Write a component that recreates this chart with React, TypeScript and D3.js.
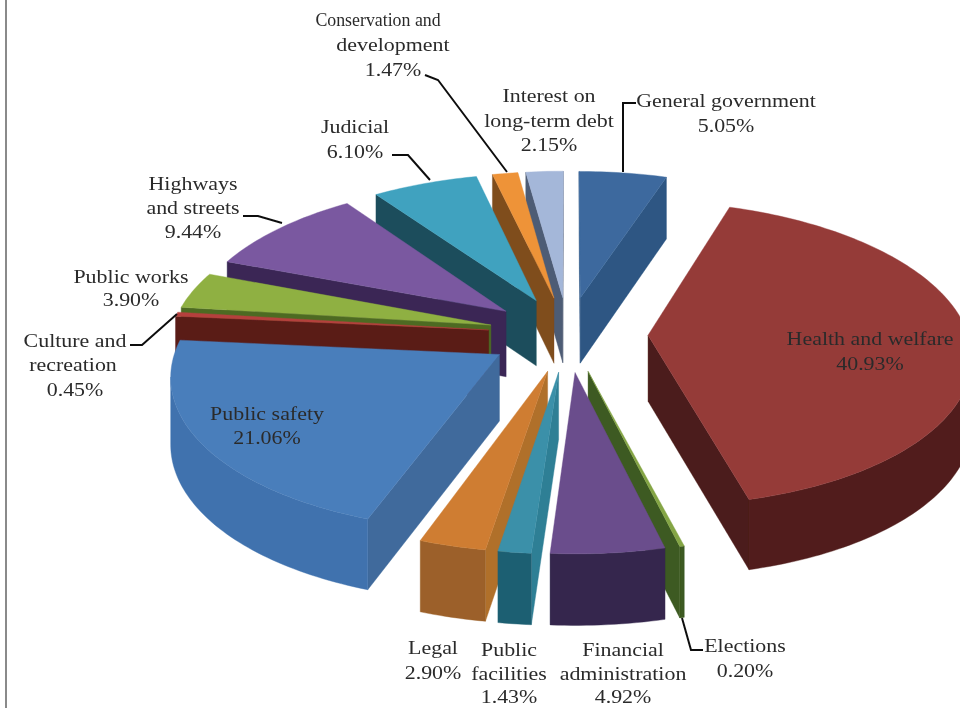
import React from "react";
import * as d3 from "d3";

// ---- data ----
const categories = ["General government","Health and welfare","Elections","Financial administration","Public facilities","Legal","Public safety","Culture and recreation","Public works","Highways and streets","Judicial","Conservation and development","Interest on long-term debt"];
const shares = [5.05,40.93,0.2,4.92,1.43,2.9,21.06,0.45,3.9,9.44,6.1,1.47,2.15];
const topColors = ["#3c699e","#953b39","#84a544","#6a4d8c","#3a90a9","#cf7d32","#4a7ebb","#b5413d","#8fb042","#7a58a0","#3fa2bf","#ee9338","#a4b7d9"];
const radialColors = ["#2d5683","#4b1b1a","#3c5a20","#35284e","#2f7f95","#b06f2c","#3f6a9c","#5a1c19","#4d6a24","#3a2855","#1d4e5c","#7f4d1f","#4e5c75"];
const outerColors = ["#2d5683","#511e1c","#3c5a20","#35284e","#1f5f72","#9c6129","#3f72ae","#5a1c19","#4d6a24","#3a2855","#1d4e5c","#7f4d1f","#4e5c75"];

// ---- labels and leader lines (text, centre x, baseline y, horizontal stretch) ----
const labels: [string, number, number, number][] = [
  ["Conservation and",378,26,0.915],["development",393,51,1.125],["1.47%",393,76,1.125],
  ["Interest on",549,102,1.125],["long-term debt",549,127,1.125],["2.15%",549,151,1.125],
  ["General government",726,107,1.125],["5.05%",726,132,1.125],
  ["Judicial",355,133,1.125],["6.10%",355,158,1.125],
  ["Highways",193,190,1.125],["and streets",193,214,1.125],["9.44%",193,238,1.125],
  ["Public works",131,283,1.125],["3.90%",131,306,1.125],
  ["Culture and",75,347,1.125],["recreation",73,371,1.125],["0.45%",75,396,1.125],
  ["Public safety",267,420,1.125],["21.06%",267,444,1.125],
  ["Health and welfare",870,345,1.125],["40.93%",870,370,1.125],
  ["Legal",433,654,1.125],["2.90%",433,679,1.125],
  ["Public",509,656,1.125],["facilities",509,680,1.125],["1.43%",509,703,1.125],
  ["Financial",623,656,1.125],["administration",623,680,1.125],["4.92%",623,703,1.125],
  ["Elections",745,652,1.125],["0.20%",745,677,1.125],
];
const leaders: [number, number][][] = [
  [[623,172],[623,103],[636,103]],
  [[425,75],[438,80],[507,172]],
  [[392,155],[408,155],[430,180]],
  [[243,216],[258,216],[282,223]],
  [[130,345],[142,345],[177,314]],
  [[682,618],[691,650],[703,650]],
];

// ---- projection ----
const W = 960, H = 708;
const cx = 568, cy = 334;
const R = 320, explode = 80, depth = 66;
const tilt = 0.468, persp = 0.000373;

type P = [number, number];
const project = (x: number, y: number, z: number): P => {
  const s = 1 / (1 + persp * y);
  return [cx + x * s, cy - y * tilt * s + z * Math.sqrt(s)];
};
const line = d3.line<P>().x(d => d[0]).y(d => d[1]);
const closed = (pts: P[]) => line(pts) + "Z";
// positive for the screen-clockwise winding (y pointing down)
const area = (pts: P[]) => -d3.polygonArea(pts);

const pie = d3.pie<number>().sort(null).value(d => d);
const arcs = pie(shares);

function Slice({ i }: { i: number }) {
  const a0 = arcs[i].startAngle, a1 = arcs[i].endAngle, m = (a0 + a1) / 2;
  const ox = explode * Math.sin(m), oy = explode * Math.cos(m);
  const n = Math.max(2, Math.ceil((a1 - a0) / 0.02));
  const angle = d3.scaleLinear().domain([0, n]).range([a0, a1]);
  const steps = d3.range(n + 1).map(k => angle(k));
  const top = steps.map(a => project(ox + R * Math.sin(a), oy + R * Math.cos(a), 0));
  const bot = steps.map(a => project(ox + R * Math.sin(a), oy + R * Math.cos(a), depth));
  const at = project(ox, oy, 0), ab = project(ox, oy, depth);
  const startWall: P[] = [at, top[0], bot[0], ab];
  const endWall: P[] = [at, top[n], bot[n], ab];
  // contiguous runs of front-facing segments form one outer wall polygon
  const runs: number[][] = [];
  d3.range(n).forEach(k => {
    if (area([top[k], top[k + 1], bot[k + 1], bot[k]]) < 0) {
      const last = runs[runs.length - 1];
      if (last && last[last.length - 1] === k) last.push(k + 1);
      else runs.push([k, k + 1]);
    }
  });
  const rc = radialColors[i], oc = outerColors[i];
  return (
    <g>
      {area(startWall) < 0 && <path d={closed(startWall)} fill={rc} stroke={rc} strokeWidth={0.4} />}
      {area(endWall) > 0 && <path d={closed(endWall)} fill={rc} stroke={rc} strokeWidth={0.4} />}
      {runs.map((r, k) => (
        <path key={k} d={closed([...r.map(j => top[j]), ...r.slice().reverse().map(j => bot[j])])} fill={oc} stroke={oc} strokeWidth={0.4} />
      ))}
      <path d={closed([at, ...top])} fill={topColors[i]} stroke={topColors[i]} strokeWidth={0.4} />
    </g>
  );
}

export default function App() {
  const order = d3.range(shares.length).sort((p, q) => {
    const mp = (arcs[p].startAngle + arcs[p].endAngle) / 2;
    const mq = (arcs[q].startAngle + arcs[q].endAngle) / 2;
    return Math.cos(mq) - Math.cos(mp);
  });
  return (
    <svg width={W} height={H} viewBox={`0 0 ${W} ${H}`} style={{ position: "absolute", left: 0, top: 0, background: "#fff" }} role="img" aria-label={categories.join(", ")}>
      <defs>
        <filter id="soft" x="-5%" y="-5%" width="110%" height="110%"><feGaussianBlur stdDeviation="0.55" /></filter>
      </defs>
      <g filter="url(#soft)">
        <rect x={5} y={0} width={2} height={H} fill="#8a8a8a" />
        {order.map(i => <Slice key={i} i={i} />)}
        {leaders.map((l, i) => <path key={i} d={line(l as P[]) || ""} fill="none" stroke="#111" strokeWidth={2} />)}
        {labels.map(([t, x, y, sx], i) => (
          <text key={i} transform={`translate(${x},${y}) scale(${sx},1)`} textAnchor="middle" fontFamily="'Liberation Serif', serif" fontSize={19.5} fill="#2b2b2b">{t}</text>
        ))}
      </g>
    </svg>
  );
}
